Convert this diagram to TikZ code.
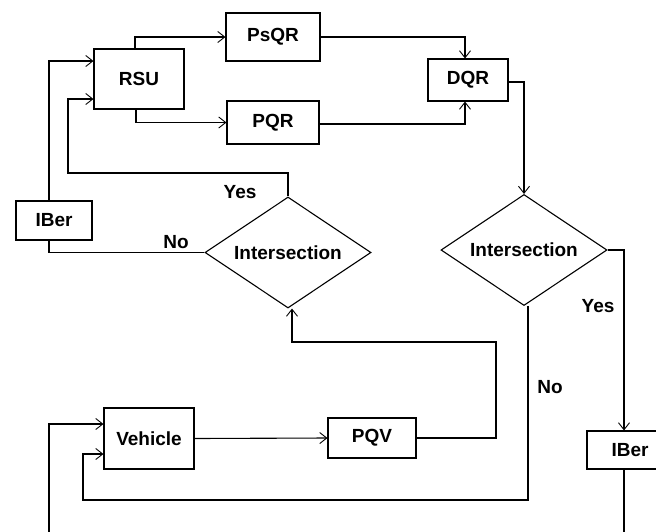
\documentclass[tikz,border=0pt]{standalone}
\usepackage{fontspec}
\setmainfont{Liberation Sans}
\usetikzlibrary{arrows.meta,shapes.geometric,calc}

\begin{document}
\begin{tikzpicture}[x=1pt,y=-1pt,
font=\fontsize{19}{21}\selectfont\bfseries,
box/.style={draw,line width=1.1pt,inner sep=0pt},
decision/.style={draw,diamond,aspect=1.5,line width=1.1pt,inner sep=0pt,
minimum width=166pt,minimum height=111pt},
arr/.style={line width=1.1pt,-{Straight Barb[length=7pt,width=11pt,line width=0.9pt]}},
line/.style={line width=1.1pt}]
\clip (0,0) rectangle (656,531);
\node[box,minimum width=90pt,minimum height=60pt] (rsu) at (139,79) {RSU};
\node[box,minimum width=94pt,minimum height=48pt] (psqr) at (273,37) {PsQR};
\node[box,minimum width=92pt,minimum height=43pt] (pqr) at (273,122.5) {PQR};
\node[box,minimum width=80pt,minimum height=42pt] (dqr) at (468,80) {DQR};
\node[box,minimum width=76pt,minimum height=39pt] (iber1) at (54,220.5) {IBer};
\node[decision] (int1) at (288,252.5) {Intersection};
\node[decision] (int2) at (524,250) {Intersection};
\node[box,minimum width=86pt,minimum height=38pt] (iber2) at (630,450) {IBer};
\node[box,minimum width=90pt,minimum height=61pt] (vehicle) at (149,438.5) {Vehicle};
\node[box,minimum width=88pt,minimum height=40pt] (pqv) at (372,438) {PQV};
\coordinate (yesturn) at (68,173);
\coordinate (pqvturn) at (496,342);
\coordinate (noturn) at (83,500);
\coordinate (backturn) at (49,600);
\draw[arr] ([xshift=-4pt]rsu.north) |- (psqr.west);
\draw[arr] ([xshift=-3pt]rsu.south) |- (pqr.west);
\draw[arr] (psqr.east) -| ([xshift=-3pt]dqr.north);
\draw[arr] ([yshift=-1.5pt]pqr.east) -| ([xshift=-3pt]dqr.south);
\draw[arr] ([yshift=-2pt]dqr.east) -| (int2.north);
\draw[arr] (int2.east) -| ([xshift=-6pt]iber2.north);
\draw[arr] ([xshift=-5pt]iber1.north) |- ([yshift=18pt]rsu.west);
\draw[line] ([xshift=-5pt]iber1.south) |- (int1.west);
\draw[arr] (int1.north) |- (yesturn) |- ([yshift=-20pt]rsu.west);
\draw[arr] (vehicle.east) -- (pqv.west);
\draw[arr] (pqv.east) -| (pqvturn) -| ([xshift=4pt]int1.south);
\draw[arr] ([xshift=4pt]int2.south) |- (noturn) |- ([yshift=-15.5pt]vehicle.west);
\draw[arr] ([xshift=-6pt]iber2.south) |- (backturn) |- ([yshift=14.5pt]vehicle.west);
\node at (240,192) {Yes};
\node at (176,242) {No};
\node at (598,306) {Yes};
\node at (550,387) {No};
\end{tikzpicture}
\end{document}
